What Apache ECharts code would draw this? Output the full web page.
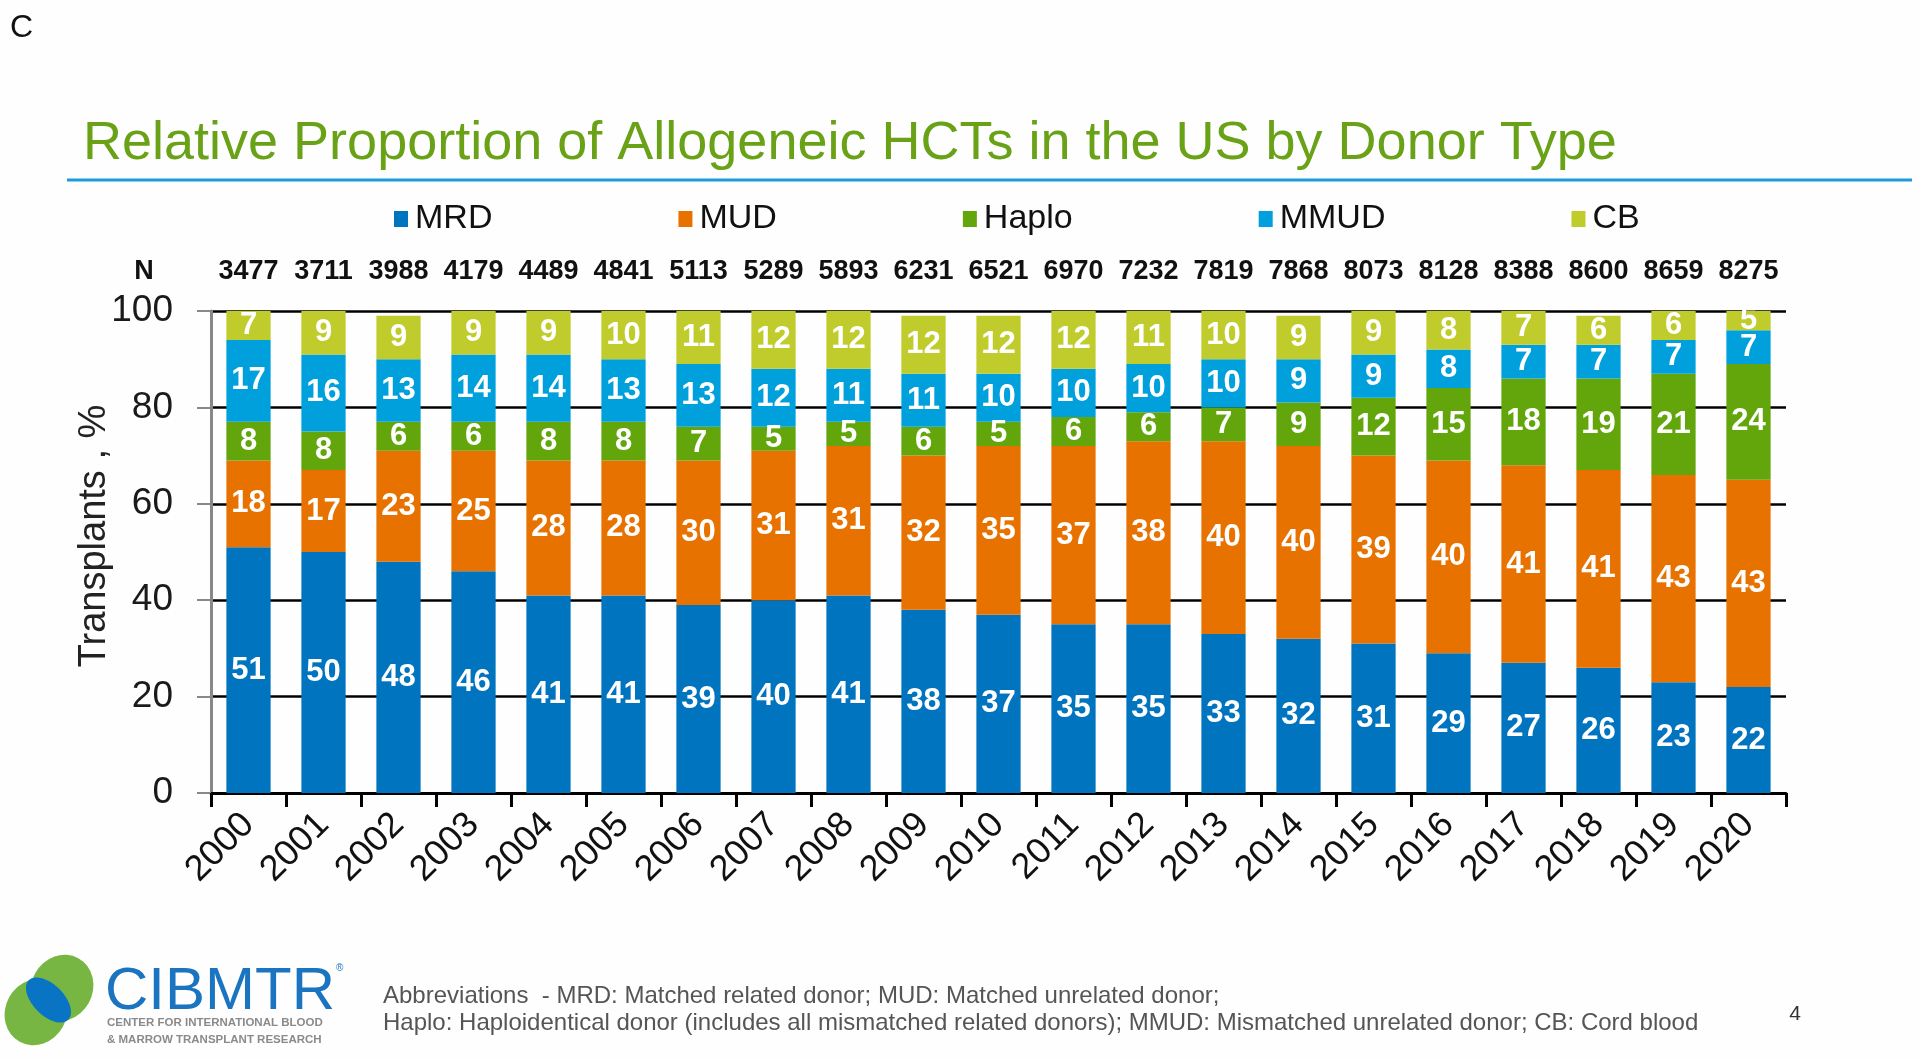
<!DOCTYPE html>
<html>
<head>
<meta charset="utf-8">
<script src="https://cdn.jsdelivr.net/npm/echarts@6/dist/echarts.min.js"></script>
<style>
html,body{margin:0;padding:0;background:#fefefe;}
#chart{width:1920px;height:1058px;}
</style>
</head>
<body>
<div id="chart"></div>
<script>
var years = ['2000','2001','2002','2003','2004','2005','2006','2007','2008','2009','2010','2011','2012','2013','2014','2015','2016','2017','2018','2019','2020'];
var nValues = ['3477','3711','3988','4179','4489','4841','5113','5289','5893','6231','6521','6970','7232','7819','7868','8073','8128','8388','8600','8659','8275'];
var mrd   = [51,50,48,46,41,41,39,40,41,38,37,35,35,33,32,31,29,27,26,23,22];
var mud   = [18,17,23,25,28,28,30,31,31,32,35,37,38,40,40,39,40,41,41,43,43];
var haplo = [8,8,6,6,8,8,7,5,5,6,5,6,6,7,9,12,15,18,19,21,24];
var mmud  = [17,16,13,14,14,13,13,12,11,11,10,10,10,10,9,9,8,7,7,7,7];
var cb    = [7,9,9,9,9,10,11,12,12,12,12,12,11,10,9,9,8,7,6,6,5];
var yTicks = [0,20,40,60,80,100];

var FONT = 'Liberation Sans, Arial, Helvetica, sans-serif';
var seriesDefs = [
  {name:'MRD', data:mrd, color:'#0074BE'},
  {name:'MUD', data:mud, color:'#E87200'},
  {name:'Haplo', data:haplo, color:'#63A60C'},
  {name:'MMUD', data:mmud, color:'#00A0DC'},
  {name:'CB', data:cb, color:'#C0CC2B'}
];

var chart = echarts.init(document.getElementById('chart'), null, {renderer:'canvas'});
var option = {
  backgroundColor:'#fefefe',
  animation:false,
  textStyle:{fontFamily:FONT},
  legend:{
    left:389, top:197,
    itemWidth:14, itemHeight:16, itemGap:186,
    icon:'rect',
    textStyle:{fontSize:34, color:'#111', fontFamily:FONT, padding:[0,0,0,2]},
    data:['MRD','MUD','Haplo','MMUD','CB']
  },
  grid:{left:211, right:134, top:311, bottom:265, containLabel:false},
  xAxis:[{
    type:'category', data:years, position:'bottom',
    axisLine:{lineStyle:{color:'#000', width:3}},
    axisTick:{show:true, length:14, lineStyle:{color:'#000', width:3}, alignWithLabel:false},
    axisLabel:{rotate:45, margin:26, fontSize:36, color:'#111', fontFamily:FONT, interval:0}
  },{
    type:'category', data:nValues, position:'top',
    axisLine:{show:false}, axisTick:{show:false},
    axisLabel:{margin:26, fontSize:27, fontWeight:'bold', color:'#111', fontFamily:FONT, interval:0, hideOverlap:false}
  }],
  yAxis:{
    type:'value', min:0, max:100, interval:20,
    name:'Transplants , %', nameLocation:'middle', nameGap:97, nameRotate:90, nameMoveOverlap:false,
    nameTextStyle:{fontSize:38, color:'#222', fontFamily:FONT, padding:[0,0,0,32]},
    axisLine:{show:true, lineStyle:{color:'#888', width:3}},
    axisTick:{show:true, length:14, lineStyle:{color:'#888', width:2}},
    axisLabel:{margin:38, fontSize:37, color:'#1a1a1a', fontFamily:FONT,
      formatter:function(v){return yTicks.indexOf(v)>=0 ? String(v) : '';}},
    splitLine:{show:true, lineStyle:{color:'#000', width:2.5}}
  },
  series: seriesDefs.map(function(s){
    return {
      name:s.name, type:'bar', stack:'total', data:s.data, xAxisIndex:0,
      barWidth:'59%', clip:true,
      itemStyle:{color:s.color},
      label:{show:true, position:'inside', color:'#fff', fontSize:31, fontWeight:'bold', fontFamily:FONT}
    };
  }),
  graphic:[
    {type:'text', left:10, top:12, style:{text:'C', fontSize:32, fill:'#111', fontFamily:FONT}},
    {type:'text', x:83, y:144, style:{text:'Relative Proportion of Allogeneic HCTs in the US by Donor Type', fontSize:54, fill:'#69A216', fontFamily:FONT, verticalAlign:'middle'}},
    {type:'line', shape:{x1:67,y1:180,x2:1912,y2:180}, style:{stroke:'#1B9BD7', lineWidth:3}},
    {type:'text', x:144, y:272, style:{text:'N', fontSize:27, fontWeight:'bold', fill:'#111', fontFamily:FONT, align:'center', verticalAlign:'middle'}},
    // logo
    {type:'circle', x:62, y:988, scaleX:0.9, rotation:-0.5, shape:{cx:0, cy:0, r:34}, style:{fill:'#78B643'}},
    {type:'circle', x:36, y:1012, scaleX:0.9, rotation:-0.5, shape:{cx:0, cy:0, r:34}, style:{fill:'#78B643'}},
    {type:'circle', x:48.5, y:1000, rotation:-Math.PI/4, scaleY:0.55, shape:{cx:0, cy:0, r:28}, style:{fill:'#0A74C4'}},
    {type:'text', x:105, y:992, style:{text:'CIBMTR', fontSize:60, fill:'#1A74C0', fontFamily:FONT, verticalAlign:'middle'}},
    {type:'text', x:336, y:968, style:{text:'®', fontSize:10, fill:'#1A74C0', fontFamily:FONT, verticalAlign:'middle'}},
    {type:'text', x:107, y:1023, style:{text:'CENTER FOR INTERNATIONAL BLOOD', fontSize:11.5, fontWeight:'bold', fill:'#8a8a8a', fontFamily:FONT, verticalAlign:'middle'}},
    {type:'text', x:107, y:1040, style:{text:'& MARROW TRANSPLANT RESEARCH', fontSize:11.5, fontWeight:'bold', fill:'#8a8a8a', fontFamily:FONT, verticalAlign:'middle'}},
    // footer abbreviations
    {type:'text', x:383, y:996, style:{text:'Abbreviations  - MRD: Matched related donor; MUD: Matched unrelated donor;', fontSize:24, fill:'#555', fontFamily:FONT, verticalAlign:'middle'}},
    {type:'text', x:383, y:1023, style:{text:'Haplo: Haploidentical donor (includes all mismatched related donors); MMUD: Mismatched unrelated donor; CB: Cord blood', fontSize:24, fill:'#555', fontFamily:FONT, verticalAlign:'middle'}},
    {type:'text', x:1795, y:1014, style:{text:'4', fontSize:21, fill:'#333', fontFamily:FONT, align:'center', verticalAlign:'middle'}}
  ]
};
chart.setOption(option);
</script>
</body>
</html>
